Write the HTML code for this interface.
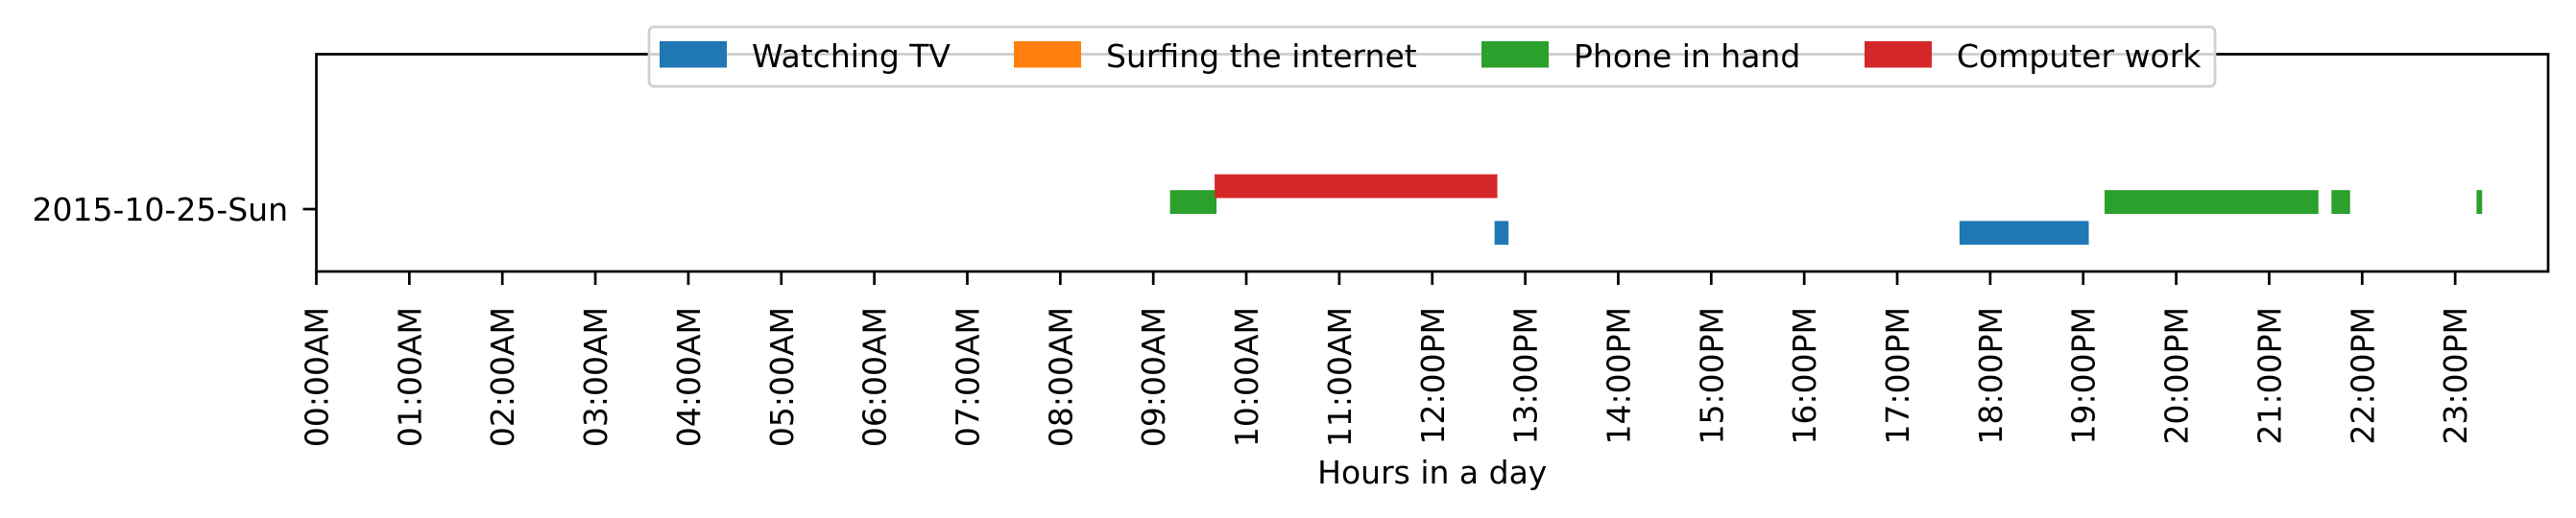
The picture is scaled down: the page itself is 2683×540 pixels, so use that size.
<!DOCTYPE html>
<html><head><meta charset="utf-8"><style>
html,body{margin:0;padding:0;background:#fff;}
svg{display:block;font-family:"DejaVu Sans","Liberation Sans",sans-serif;}
</style></head><body>
<svg id="chart" width="2683" height="540" viewBox="0 0 2683 540" xmlns="http://www.w3.org/2000/svg">
<g id="bars"></g>
<g id="axes"></g>
<g id="legend"></g>
</svg>
<script>
const categories = ["2015-10-25-Sun"];
const activities = ["Watching TV", "Surfing the internet", "Phone in hand", "Computer work"];
const colors = ["#1f77b4", "#ff7f0e", "#2ca02c", "#d62728"];
const rowOffsets = [0.9, 0.35, -0.27, -0.87];
const tvIntervals = [[12.67, 12.82], [17.67, 19.06]];
const internetIntervals = [];
const phoneIntervals = [[9.18, 9.68], [19.23, 21.53], [21.67, 21.87], [23.23, 23.29]];
const computerIntervals = [[9.66, 12.70]];
const tickLabels = ["00:00AM","01:00AM","02:00AM","03:00AM","04:00AM","05:00AM","06:00AM","07:00AM","08:00AM","09:00AM","10:00AM","11:00AM","12:00PM","13:00PM","14:00PM","15:00PM","16:00PM","17:00PM","18:00PM","19:00PM","20:00PM","21:00PM","22:00PM","23:00PM"];

const NS = "http://www.w3.org/2000/svg";
const L = 329.5, R = 2654, T = 56.5, B = 283;
const xMin = 0, xMax = 24;
const x = h => L + (h - xMin) / (xMax - xMin) * (R - L);
const rowCenter = 218, rowUnit = 27.5, barH = 24.8;
const y = (cat, off) => rowCenter + cat * 100 + off * rowUnit;

function mk(tag, attrs, parent) {
  const e = document.createElementNS(NS, tag);
  for (const k in attrs) e.setAttribute(k, attrs[k]);
  parent.appendChild(e);
  return e;
}
const bars = document.getElementById('bars');
const series = [tvIntervals, internetIntervals, phoneIntervals, computerIntervals];
series.forEach((ivs, a) => {
  ivs.forEach(iv => {
    const cy = y(0, rowOffsets[a]);
    const r = mk('rect', {x: x(iv[0]), y: cy - barH / 2, width: Math.max(2, x(iv[1]) - x(iv[0])), height: barH, fill: colors[a]}, bars);
    
    
  });
});

const axes = document.getElementById('axes');
const frame = mk('rect', {x: L, y: T, width: R - L, height: B - T, fill: 'none', stroke: '#000', 'stroke-width': 2.7}, axes);


tickLabels.forEach((lab, i) => {
  const tx = x(i);
  const t = mk('line', {x1: tx, y1: B, x2: tx, y2: B + 14, stroke: '#000', 'stroke-width': 2.7}, axes);
  
  
  const tl = mk('text', {x: 0, y: 0, 'font-size': 33, 'text-anchor': 'end', transform: `translate(${tx + 12},${320}) rotate(-90)`}, axes);
  tl.textContent = lab;
  
  
});
categories.forEach((c, i) => {
  const cy = rowCenter + i * 100;
  const t = mk('line', {x1: L - 14, y1: cy, x2: L, y2: cy, stroke: '#000', 'stroke-width': 2.7}, axes);
  
  
  const tl = mk('text', {x: 300, y: cy + 12, 'font-size': 33, 'text-anchor': 'end'}, axes);
  tl.textContent = c;
  
  
});
const xt = mk('text', {x: (L + R) / 2, y: 504, 'font-size': 33, 'text-anchor': 'middle'}, axes);
xt.textContent = 'Hours in a day';



const lg = document.getElementById('legend');
const box = mk('rect', {x: 676, y: 28, width: 1631, height: 62, rx: 5, fill: 'rgba(255,255,255,0.8)', stroke: '#d0d0d0', 'stroke-width': 2.7}, lg);


const patchX = [687, 1056, 1543, 1942];
activities.forEach((a, i) => {
  const p = mk('rect', {x: patchX[i], y: 43, width: 70, height: 27.5, fill: colors[i]}, lg);
  
  
  const t = mk('text', {x: patchX[i] + 96, y: 70, 'font-size': 33}, lg);
  t.textContent = a;
  
  
});
</script>
</body></html>
